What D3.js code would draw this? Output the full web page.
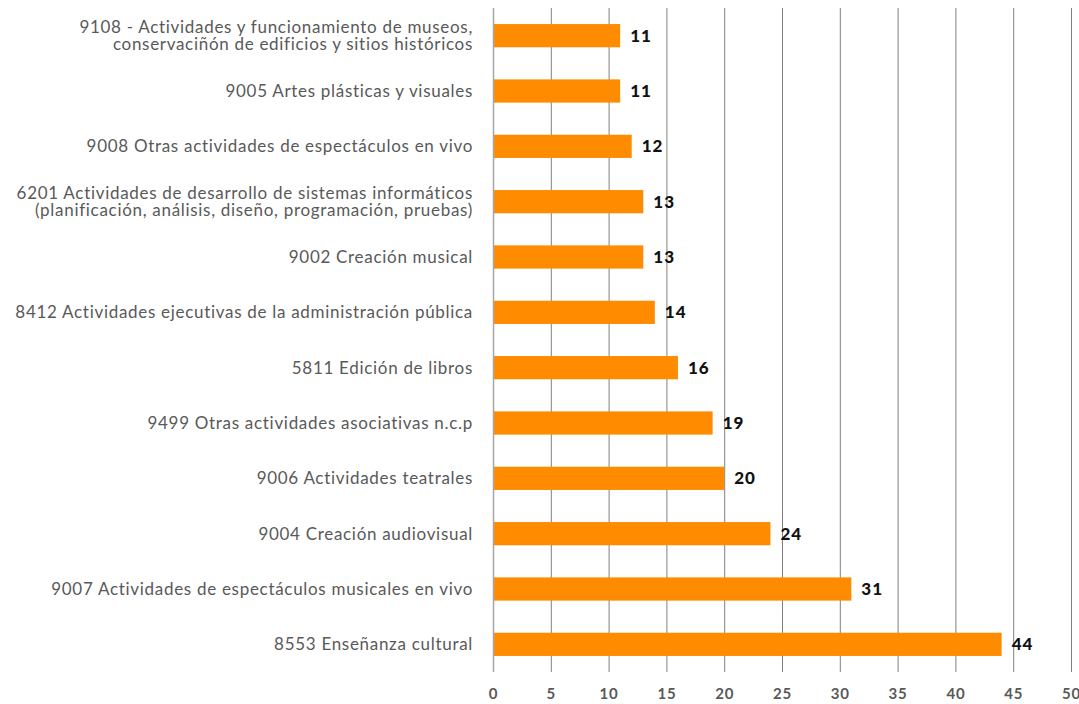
<!DOCTYPE html>
<html><head><meta charset="utf-8">
<script src="https://cdn.jsdelivr.net/npm/d3@7"></script>
<style>body{margin:0;background:#fff}</style>
</head><body>
<svg id="c" width="1079" height="704"></svg>
<script>
const categories = [
  ["9108 - Actividades y funcionamiento de museos,", "conservaciñón de edificios y sitios históricos"],
  ["9005 Artes plásticas y visuales"],
  ["9008 Otras actividades de espectáculos en vivo"],
  ["6201 Actividades de desarrollo de sistemas informáticos", "(planificación, análisis, diseño, programación, pruebas)"],
  ["9002 Creación musical"],
  ["8412 Actividades ejecutivas de la administración pública"],
  ["5811 Edición de libros"],
  ["9499 Otras actividades asociativas n.c.p"],
  ["9006 Actividades teatrales"],
  ["9004 Creación audiovisual"],
  ["9007 Actividades de espectáculos musicales en vivo"],
  ["8553 Enseñanza cultural"]
];
const values = [11, 11, 12, 13, 13, 14, 16, 19, 20, 24, 31, 44];
const ticks = [0, 5, 10, 15, 20, 25, 30, 35, 40, 45, 50];

const svg = d3.select("#c");
const mLeft = 493, mRight = 1071, mTop = 8, mBottom = 672;
const font = "Lato, 'DejaVu Sans', sans-serif";
const x = d3.scaleLinear().domain([0, 50]).range([mLeft, mRight]);
const y = d3.scaleBand().domain(d3.range(categories.length)).range([mTop, mBottom]).paddingInner(0.58).paddingOuter(0.29);

// gridlines
svg.append("g").selectAll("line").data(ticks.slice(1)).join("line")
  .attr("x1", d => x(d) + 0.5).attr("x2", d => x(d) + 0.5)
  .attr("y1", mTop).attr("y2", mBottom)
  .attr("stroke", "#808080").attr("stroke-width", 1);

// bars
svg.append("g").selectAll("rect").data(values).join("rect")
  .attr("x", x(0)).attr("y", (d, i) => y(i))
  .attr("width", d => x(d) - x(0)).attr("height", y.bandwidth())
  .attr("fill", "#FF8C00");

// category axis line
svg.append("line").attr("x1", x(0) + 0.5).attr("x2", x(0) + 0.5)
  .attr("y1", mTop).attr("y2", mBottom).attr("stroke", "#a6a6a6").attr("stroke-width", 1.5);

// value labels
svg.append("g").selectAll("text").data(values).join("text")
  .attr("x", d => x(d) + 10).attr("y", (d, i) => y(i) + y.bandwidth() / 2)
  .attr("dy", "0.36em")
  .attr("font-family", font).attr("font-weight", "900").attr("font-size", 17)
  .attr("letter-spacing", "1px")
  .attr("fill", "#111").text(d => d);

// category labels
const lab = svg.append("g").selectAll("text").data(categories).join("text")
  .attr("x", mLeft - 20).attr("y", (d, i) => y(i) + y.bandwidth() / 2)
  .attr("text-anchor", "end")
  .attr("letter-spacing", "0.7px")
  .attr("font-family", font).attr("font-size", 17).attr("fill", "#595959");
lab.each(function(d) {
  const t = d3.select(this);
  const n = d.length;
  d.forEach((line, k) => {
    t.append("tspan").attr("x", mLeft - 20)
      .attr("dy", k === 0 ? (0.36 - (n - 1) * 0.49) + "em" : "0.98em")
      .text(line);
  });
});

// x axis tick labels
const ax = svg.append("g").attr("transform", `translate(0,${mBottom})`)
  .call(d3.axisBottom(x).tickValues(ticks).tickSize(0).tickPadding(16));
ax.select(".domain").remove();
ax.selectAll("text").attr("font-family", font).attr("font-weight", "bold")
  .attr("font-size", 15).attr("letter-spacing", "0.8px").attr("fill", "#595959");
</script>
</body></html>
